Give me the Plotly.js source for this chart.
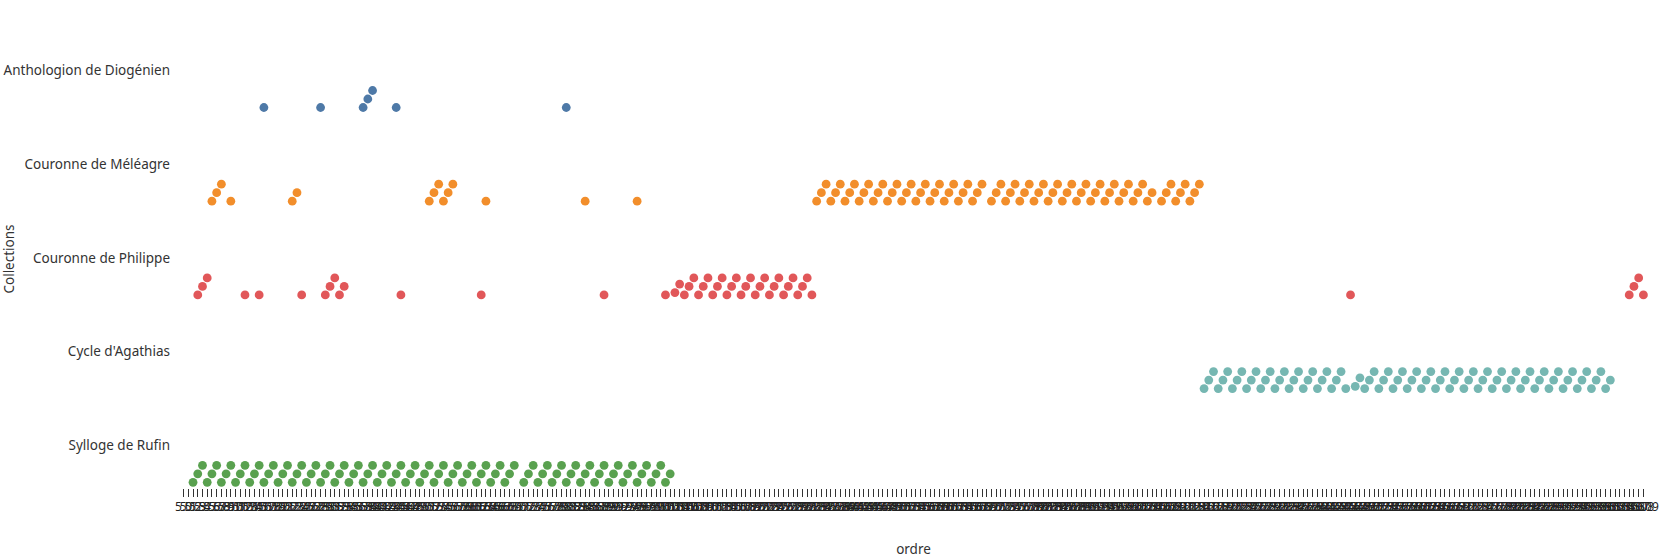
<!DOCTYPE html>
<html>
<head>
<meta charset="utf-8">
<script src="https://cdn.plot.ly/plotly-3.0.1.min.js"></script>
<style>html,body{margin:0;padding:0;background:#fff;}#chart{width:1674px;height:558px;}</style>
</head>
<body>
<div id="chart"></div>
<script>
// ---- data (ordre values per collection) ----
const collections = ["Sylloge de Rufin", "Cycle d'Agathias", "Couronne de Philippe", "Couronne de Méléagre", "Anthologion de Diogénien"];
const colors = ["#59a14f", "#76b7b2", "#e15759", "#f28e2b", "#4e79a7"];

const rufin = [2,3,4,5,6,7,8,9,10,11,12,13,14,15,16,17,18,19,20,21,22,23,24,25,26,27,28,29,30,31,32,33,34,35,36,37,38,39,40,41,42,43,44,45,46,47,48,49,50,51,52,53,54,55,56,57,58,59,60,61,62,63,64,65,66,67,68,69,70,72,73,74,75,76,77,78,79,80,81,82,83,84,85,86,87,88,89,90,91,92,93,94,95,96,97,98,99,100,101,102,103];
const agathias = [216,217,218,219,220,221,222,223,224,225,226,227,228,229,230,231,232,233,234,235,236,237,238,239,240,241,242,243,244,245,246,248,249,250,251,252,253,254,255,256,257,258,259,260,261,262,263,264,265,266,267,268,269,270,271,272,273,274,275,276,277,278,279,280,281,282,283,284,285,286,287,288,289,290,291,292,293,294,295,296,297,298,299,300,301,302];
const philippe = [3,4,5,13,16,25,30,31,32,33,34,46,63,89,102,104,105,106,107,108,109,110,111,112,113,114,115,116,117,118,119,120,121,122,123,124,125,126,127,128,129,130,131,132,133,247,306,307,308,309];
const meleagre = [6,7,8,10,23,24,52,53,54,55,56,57,64,85,96,134,135,136,137,138,139,140,141,142,143,144,145,146,147,148,149,150,151,152,153,154,155,156,157,158,159,160,161,162,163,164,165,166,167,168,169,171,172,173,174,175,176,177,178,179,180,181,182,183,184,185,186,187,188,189,190,191,192,193,194,195,196,197,198,199,200,201,202,203,204,205,207,208,209,210,211,212,213,214,215];
const diogenien = [17,29,38,39,40,45,81];
const series = [rufin, agathias, philippe, meleagre, diogenien];

// ordre axis: one tick per ordre value, labelled as epigram numbers of book 5
const ordreMin = 0, ordreMax = 309;
const bookPrefix = "5.";
const ordreTicks = [];
for (let v = ordreMin; v <= ordreMax; v++) ordreTicks.push(v);
const ordreLabels = ordreTicks.map(v => bookPrefix + v);

// ---- layout geometry ----
const W = 1674, H = 558;
const M = {l: 179, r: 26, t: 30, b: 70};
const xRange = [ordreMin - 0.97, ordreMax + 0.97];
const yRange = [-0.061, 4.827];
const labelOffset = 0.395;
const pxPerX = (W - M.l - M.r) / (xRange[1] - xRange[0]);
const pxPerY = (H - M.t - M.b) / (yRange[1] - yRange[0]);
const D = Math.sqrt(Math.pow(pxPerX, 2) + 8.5 * 8.5); // collision distance (px)

// one-sided beeswarm: each point at the lowest free height above its baseline
function swarm(vals) {
  const sorted = vals.slice().sort((a, b) => a - b);
  const placed = [];
  const out = [];
  for (const v of sorted) {
    const px = v * pxPerX;
    const near = placed.filter(p => Math.abs(p.x - px) < D);
    const cands = [0];
    for (const p of near) {
      const h = Math.sqrt(Math.max(0, D * D - (p.x - px) * (p.x - px)));
      cands.push(p.y + h);
      if (p.y - h >= 0) cands.push(p.y - h);
    }
    cands.sort((a, b) => a - b);
    let y = 0;
    for (const c of cands) {
      if (near.every(p => Math.hypot(p.x - px, p.y - c) >= D - 1e-6)) { y = c; break; }
    }
    placed.push({x: px, y: y});
    out.push({v: v, y: y});
  }
  return out;
}

const traces = series.map((vals, k) => {
  const pts = swarm(vals);
  return {
    type: 'scatter', mode: 'markers', name: collections[k],
    x: pts.map(p => p.v),
    y: pts.map(p => k + p.y / pxPerY),
    marker: {color: colors[k], size: 8.8, line: {width: 0}},
    hoverinfo: 'skip', showlegend: false
  };
});

const font = {family: "'Noto Sans', 'Open Sans', sans-serif", size: 13.5, color: '#333'};

const layout = {
  width: W, height: H,
  margin: M,
  paper_bgcolor: '#fff', plot_bgcolor: '#fff',
  font: font,
  showlegend: false,
  xaxis: {
    range: xRange, autorange: false,
    tickmode: 'array', tickvals: ordreTicks, ticktext: ordreLabels,
    tickangle: 0,
    ticks: 'outside', ticklen: 8, tickwidth: 1, tickcolor: '#333',
    tickfont: {family: font.family, size: 12, color: '#222'},
    showgrid: false, zeroline: false, showline: false,
    title: {text: 'ordre', font: {family: font.family, size: 13.5, color: '#333'}, standoff: 30},
    automargin: false
  },
  yaxis: {
    range: yRange, autorange: false,
    tickmode: 'array',
    tickvals: collections.map((c, k) => k + labelOffset),
    ticktext: collections,
    ticks: '', ticklabelstandoff: 8,
    showgrid: false, zeroline: false, showline: false,
    tickfont: {family: font.family, size: 13.5, color: '#333'},
    title: {text: 'Collections', font: {family: font.family, size: 13.5, color: '#333'}, standoff: 0},
    automargin: false
  }
};

Plotly.newPlot('chart', traces, layout, {staticPlot: true, displayModeBar: false});
</script>
</body>
</html>
